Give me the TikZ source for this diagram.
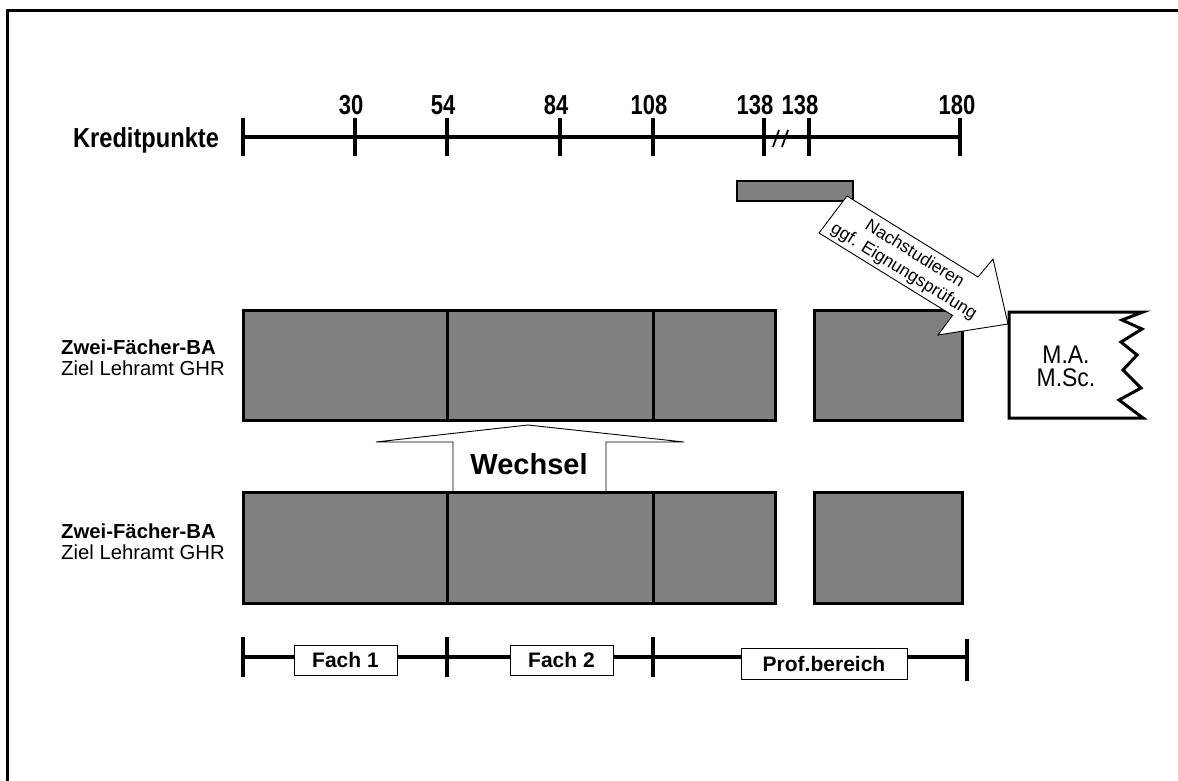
\documentclass[tikz,border=0pt]{standalone}
\usepackage{fontspec}
\setmainfont{Liberation Sans}
\newfontfamily\zahlfont[FakeStretch=0.8]{Liberation Sans}
\newfontfamily\kpfont[FakeStretch=0.86]{Liberation Sans}
\newfontfamily\mafont[FakeStretch=0.9]{Liberation Sans}
\usepackage{tikz}

\begin{document}
\begin{tikzpicture}[x=1pt,y=-1pt,
  skala/.style={line width=4pt},
  modul/.style={draw=black,fill=black!50,line width=3pt},
  pfeil/.style={draw=black,fill=white,line width=0.9pt,line join=miter},
  fachbox/.style={draw,fill=white,line width=1pt,inner sep=0pt,
    font=\bfseries\fontsize{21}{24}\selectfont},
  zeile/.style={anchor=west,align=left,inner sep=0pt,
    font=\fontsize{20.3}{21}\selectfont}]
  \useasboundingbox (0,0) rectangle (1178,781);
  \draw[line width=3pt] (7,781) -- (7,11) -- (1178,11);

  \node[anchor=base,font=\kpfont\bfseries\fontsize{27.5}{30}\selectfont] (kp) at (146,147) {Kreditpunkte};
  \draw[skala] (243,137) -- (960,137);
  \draw[skala] (243,118) -- (243,156);
  \foreach \x/\n/\d in {355/30/-4,447/54/-4,560/84/-4,653/108/-4,764/138/-9,809/138/-9,960/180/-3}{
    \draw[skala] (\x,118) -- (\x,156);
    \node[anchor=base,inner sep=0pt,font=\zahlfont\bfseries\fontsize{27.5}{30}\selectfont] (zahl\x) at (\x+\d,115) {\n};
  }
  \draw[line width=1.8pt] (773,147) -- (779,130) (782,147) -- (788,130);

  \foreach \a/\b in {243/447,447/653,653/775,814/962}
    \draw[modul] (\a,310) rectangle (\b,420);
  \draw[modul,line width=2.5pt] (737,181) rectangle (853,201);

  \draw[pfeil] (847,196) -- (978,277) -- (993,259) -- (1008,324) -- (938,335)
    -- (952.5,315.4) -- (819,233) -- cycle;
  \node[rotate=-31.8,align=center,inner sep=0pt,font=\fontsize{17.5}{20.5}\selectfont] (nach) at (909,263) {Nachstudieren\\ggf. Eignungsprüfung};

  \draw[line width=3pt,fill=white,line join=miter] (1143,312) -- (1009,312) -- (1009,418) -- (1143,418)
    -- (1119,400) -- (1141,388) -- (1123,370) -- (1137,355) -- (1121,342)
    -- (1142,329) -- (1122,320) -- cycle;
  \node[align=center,font=\mafont\fontsize{25.5}{23}\selectfont] (ma) at (1066,366) {M.A.\\M.Sc.};

  \draw[pfeil] (528,425) -- (684,442) -- (606,442) -- (606,492) -- (453,492)
    -- (453,442) -- (376,442) -- cycle;
  \node[font=\bfseries\fontsize{29}{32}\selectfont] (wechsel) at (529,464) {Wechsel};

  \foreach \a/\b in {243/447,447/653,653/775,814/962}
    \draw[modul] (\a,492) rectangle (\b,603);

  \node[zeile] (ba1) at (61,358) {\textbf{Zwei-Fächer-BA}\\Ziel Lehramt GHR};
  \node[zeile] (ba2) at (61,542) {\textbf{Zwei-Fächer-BA}\\Ziel Lehramt GHR};

  \draw[line width=3.5pt] (243,657) -- (967,657);
  \foreach \x in {243,447,653}
    \draw[line width=3.5pt] (\x,637) -- (\x,677);
  \draw[line width=3.5pt] (967,639) -- (967,681);
  \node[fachbox,minimum width=103pt,minimum height=30pt] (fach1) at (345.5,660) {Fach 1};
  \node[fachbox,minimum width=103pt,minimum height=30pt] (fach2) at (561.5,660) {Fach 2};
  \node[fachbox,minimum width=166pt,minimum height=31pt] (prof) at (824,663.5) {Prof.bereich};
\end{tikzpicture}
\end{document}
